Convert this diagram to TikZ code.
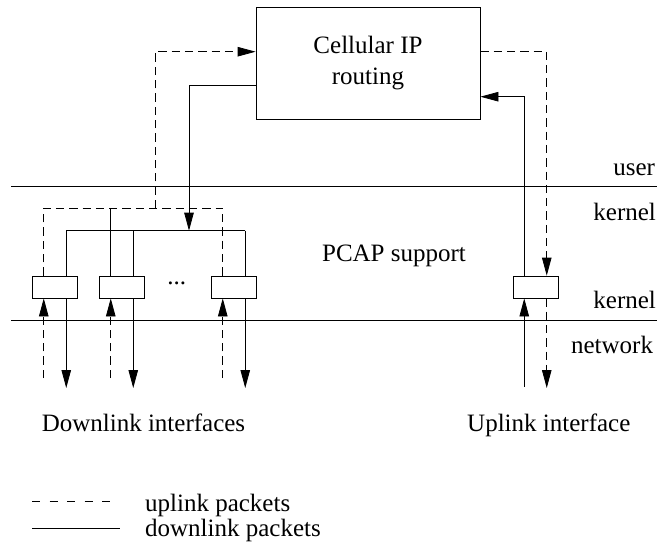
\documentclass[tikz,border=0pt]{standalone}
\usepackage{fontspec}
\setmainfont{Liberation Serif}
\usetikzlibrary{arrows.meta}
\begin{document}
\begin{tikzpicture}[x=1pt,y=-1pt,
  line width=0.8pt,
  every node/.style={font=\fontsize{25}{31.5}\selectfont},
  up/.style={dash pattern=on 8.3pt off 5pt},
  tip/.style={-{Triangle[length=18pt,width=9.5pt]}},
  iface/.style={draw,minimum width=45pt,minimum height=22pt,inner sep=0pt},
  lbl/.style={anchor=base west,inner sep=0pt}]
\useasboundingbox (0,0) rectangle (657,557);

% routing process in user space
\node[draw,minimum width=224pt,minimum height=112pt,inner sep=0pt,align=center]
  (route) at (368,63) {Cellular IP\\routing};

% user / kernel / network boundaries
\coordinate (ul) at (11,186);  \coordinate (ur) at (657,186);
\coordinate (nl) at (11,320);  \coordinate (nr) at (657,320);
\draw (ul) -- (ur);
\draw (nl) -- (nr);

\node[lbl] (tuser) at (613,175) {user};
\node[lbl] (tk1) at (593,220) {kernel};
\node[lbl] (tk2) at (593,308) {kernel};
\node[lbl] (tnet) at (570.7,353) {network};
\node[anchor=base,inner sep=0pt] (tpcap) at (394,261.7) {PCAP support};

% packet capture interfaces
\node[iface] (d1) at (55,287) {};
\node[iface] (d2) at (122,287) {};
\node[iface] (d3) at (234,287) {};
\node[iface] (u1) at (535.5,287) {};
\node[inner sep=0pt] (dots) at (176.7,283) {...};

% downlink path: routing -> bus -> downlink interfaces
\coordinate (dlbend) at (189,85.7);
\coordinate (hub) at (189,230.7);
\coordinate (busl) at (66.25,230.7);
\coordinate (busm) at (133.25,230.7);
\coordinate (busr) at (245.25,230.7);
\draw[tip] (route.west |- dlbend) -| (hub);
\draw (busl) -- (busr);
\draw (busl) -- (busl |- d1.north);
\draw (busm) -- (busm |- d2.north);
\draw (busr) -- (busr |- d3.north);
\coordinate (o1) at (66.25,388);
\coordinate (o2) at (133.25,388);
\coordinate (o3) at (245.25,388);
\draw[tip] (o1 |- d1.south) -- (o1);
\draw[tip] (o2 |- d2.south) -- (o2);
\draw[tip] (o3 |- d3.south) -- (o3);

% uplink path: downlink interfaces -> routing
\coordinate (i1) at (43.75,378);
\coordinate (i2) at (110.75,378);
\coordinate (i3) at (222.75,378);
\draw[up,tip] (i1) -- (i1 |- d1.south);
\draw[up,tip] (i2) -- (i2 |- d2.south);
\draw[up,tip] (i3) -- (i3 |- d3.south);
\coordinate (ctl) at (43.75,208);
\coordinate (ctr) at (222.75,208);
\draw[up] (ctl |- d1.north) -- (ctl) -- (ctr) -- (ctr |- d3.north);
\draw (i2 |- d2.north) -- (i2 |- ctl);
\coordinate (ulbend) at (155,208);
\coordinate (ultop) at (155,51.7);
\draw[up,tip] (ulbend) -- (ultop) -- (ultop -| route.west);

% uplink interface
\coordinate (uin) at (524.25,386.7);
\coordinate (ubend) at (524.25,96.7);
\draw[tip] (uin) -- (uin |- u1.south);
\draw[tip] (uin |- u1.north) -- (ubend) -- (ubend -| route.east);
\coordinate (uobend) at (546.75,51.7);
\coordinate (uout) at (546.75,388);
\draw[up,tip] (route.east |- uobend) -- (uobend) -- (uobend |- u1.north);
\draw[up,tip] (uout |- u1.south) -- (uout);

\node[anchor=base,inner sep=0pt] (tdl) at (143.5,431.7) {Downlink interfaces};
\node[anchor=base,inner sep=0pt] (tul) at (548.8,431.7) {Uplink interface};

% legend
\coordinate (la) at (32,501.7);  \coordinate (lb) at (110,501.7);
\coordinate (lc) at (32,528);    \coordinate (ld) at (120,528);
\draw[dash pattern=on 8pt off 9.5pt] (la) -- (lb);
\draw (lc) -- (ld);
\node[lbl] (tup) at (144.7,511.5) {uplink packets};
\node[lbl] (tdown) at (144.7,536.7) {downlink packets};
\end{tikzpicture}
\end{document}
